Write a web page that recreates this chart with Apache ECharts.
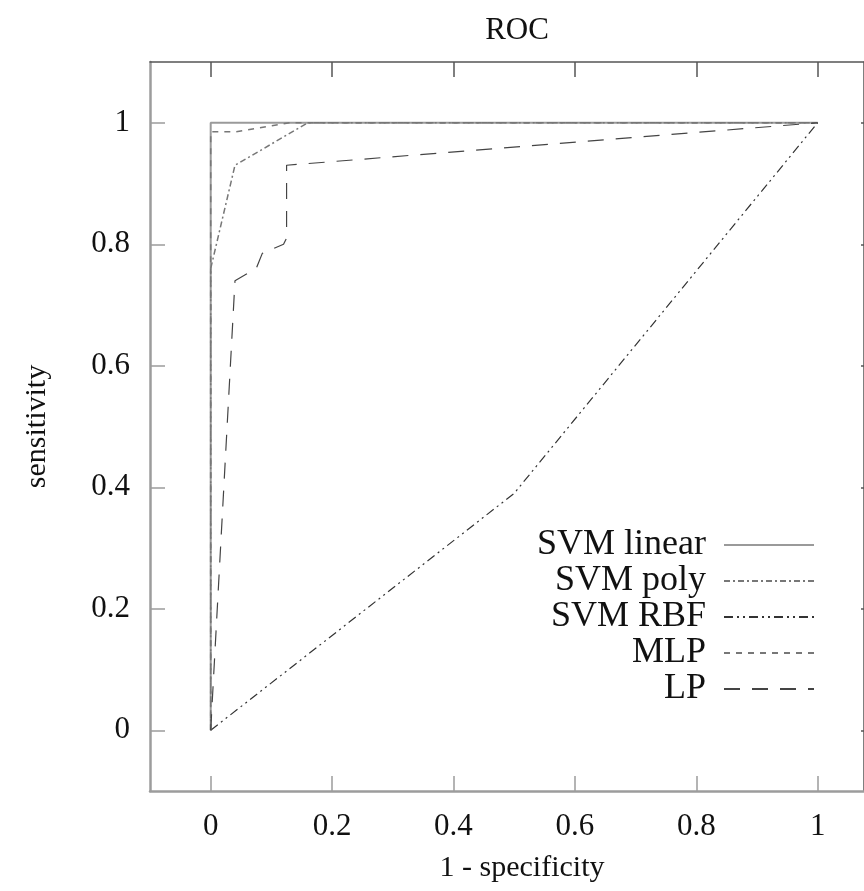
<!DOCTYPE html>
<html>
<head>
<meta charset="utf-8">
<script src="https://cdn.jsdelivr.net/npm/echarts@6/dist/echarts.min.js"></script>
<style>
  html, body { margin: 0; padding: 0; background: #fff; }
  #chart { width: 864px; height: 891px; }
</style>
</head>
<body>
<div id="chart"></div>
<script>
// ROC curves: [1 - specificity, sensitivity] pairs per classifier
const svmLinear = [[0, 0], [0, 1], [1, 1]];
const svmPoly = [[0, 0], [0, 0.76], [0.04, 0.93], [0.16, 1], [1, 1]];
const svmRbf = [[0, 0], [0.5, 0.39], [1, 1]];
const mlp = [[0, 0], [0, 0.985], [0.04, 0.985], [0.13, 1], [1, 1]];
const lp = [[0, 0], [0.04, 0.74], [0.075, 0.76], [0.085, 0.785], [0.12, 0.8], [0.125, 0.81], [0.125, 0.93], [1, 1]];

const seriesNames = ['SVM linear', 'SVM poly', 'SVM RBF', 'MLP', 'LP'];
const tickValues = [0, 0.2, 0.4, 0.6, 0.8, 1];

// horizontal extent: the frame runs on past the right edge of the page
const xMin = -0.1;
const xMax = 1.0763;
const yMin = -0.1;
const yMax = 1.1;

const serif = '"Liberation Serif", "DejaVu Serif", serif';

function fmt(v) {
  return String(Math.round(v * 10) / 10);
}

function valueAxis(pos, min, max, showLabels, lineColor, lineWidth, tickLen) {
  return {
    type: 'value',
    position: pos,
    min: min,
    max: max,
    splitLine: { show: false },
    axisLine: { show: true, onZero: false, lineStyle: { color: lineColor, width: lineWidth } },
    axisTick: {
      show: true,
      inside: true,
      length: tickLen,
      customValues: tickValues,
      lineStyle: { color: lineColor, width: 1.5 }
    },
    axisLabel: {
      show: showLabels,
      customValues: tickValues,
      formatter: fmt,
      fontFamily: serif,
      fontSize: 31,
      color: '#111',
      margin: 20
    }
  };
}

const xBottom = valueAxis('bottom', xMin, xMax, true, '#9c9c9c', 2.5, 15);
xBottom.name = '1 - specificity';
xBottom.nameLocation = 'middle';
xBottom.nameGap = 62;
xBottom.nameTextStyle = { fontFamily: serif, fontSize: 30, color: '#111', padding: [0, 0, 0, 30] };
const xTop = valueAxis('top', xMin, xMax, false, '#555', 1.5, 15);

const yLeft = valueAxis('left', yMin, yMax, true, '#9c9c9c', 2.5, 15);
yLeft.name = 'sensitivity';
yLeft.nameLocation = 'middle';
yLeft.nameGap = 98;
yLeft.nameTextStyle = { fontFamily: serif, fontSize: 30, color: '#111' };
const yRight = valueAxis('right', yMin, yMax, false, '#555', 1.5, 3);

function lineSeries(name, data, color, width, dash) {
  return {
    name: name,
    type: 'line',
    data: data,
    xAxisIndex: 0,
    yAxisIndex: 0,
    symbol: 'none',
    silent: true,
    animation: false,
    lineStyle: { color: color, width: width, type: dash },
    itemStyle: { color: color }
  };
}

const option = {
  backgroundColor: '#fff',
  animation: false,
  title: {
    text: 'ROC',
    left: 512,
    textAlign: 'center',
    top: 10,
    textStyle: { fontFamily: serif, fontSize: 31, fontWeight: 'normal', color: '#111' }
  },
  grid: { left: 150, top: 62, right: 0, height: 729, containLabel: false },
  xAxis: [xBottom, xTop],
  yAxis: [yLeft, yRight],
  legend: {
    orient: 'vertical',
    right: 49,
    top: 527,
    padding: 0,
    align: 'right',
    itemWidth: 90,
    itemHeight: 12,
    itemGap: 0,
    selectedMode: false,
    data: seriesNames,
    itemStyle: { opacity: 0 },
    textStyle: {
      fontFamily: serif,
      fontSize: 36,
      lineHeight: 30,
      color: '#111',
      padding: [0, 13, 0, 0]
    }
  },
  series: [
    lineSeries(seriesNames[0], svmLinear, '#9a9a9a', 2, 'solid'),
    lineSeries(seriesNames[1], svmPoly, '#777', 1.5, [6, 3, 2, 3]),
    lineSeries(seriesNames[2], svmRbf, '#333', 1.2, [9, 4, 2, 4, 2, 4]),
    lineSeries(seriesNames[3], mlp, '#777', 1.5, [6, 6]),
    lineSeries(seriesNames[4], lp, '#444', 1.2, [16, 12])
  ]
};

const chart = echarts.init(document.getElementById('chart'), null, { renderer: 'canvas' });
chart.setOption(option);
</script>
</body>
</html>
